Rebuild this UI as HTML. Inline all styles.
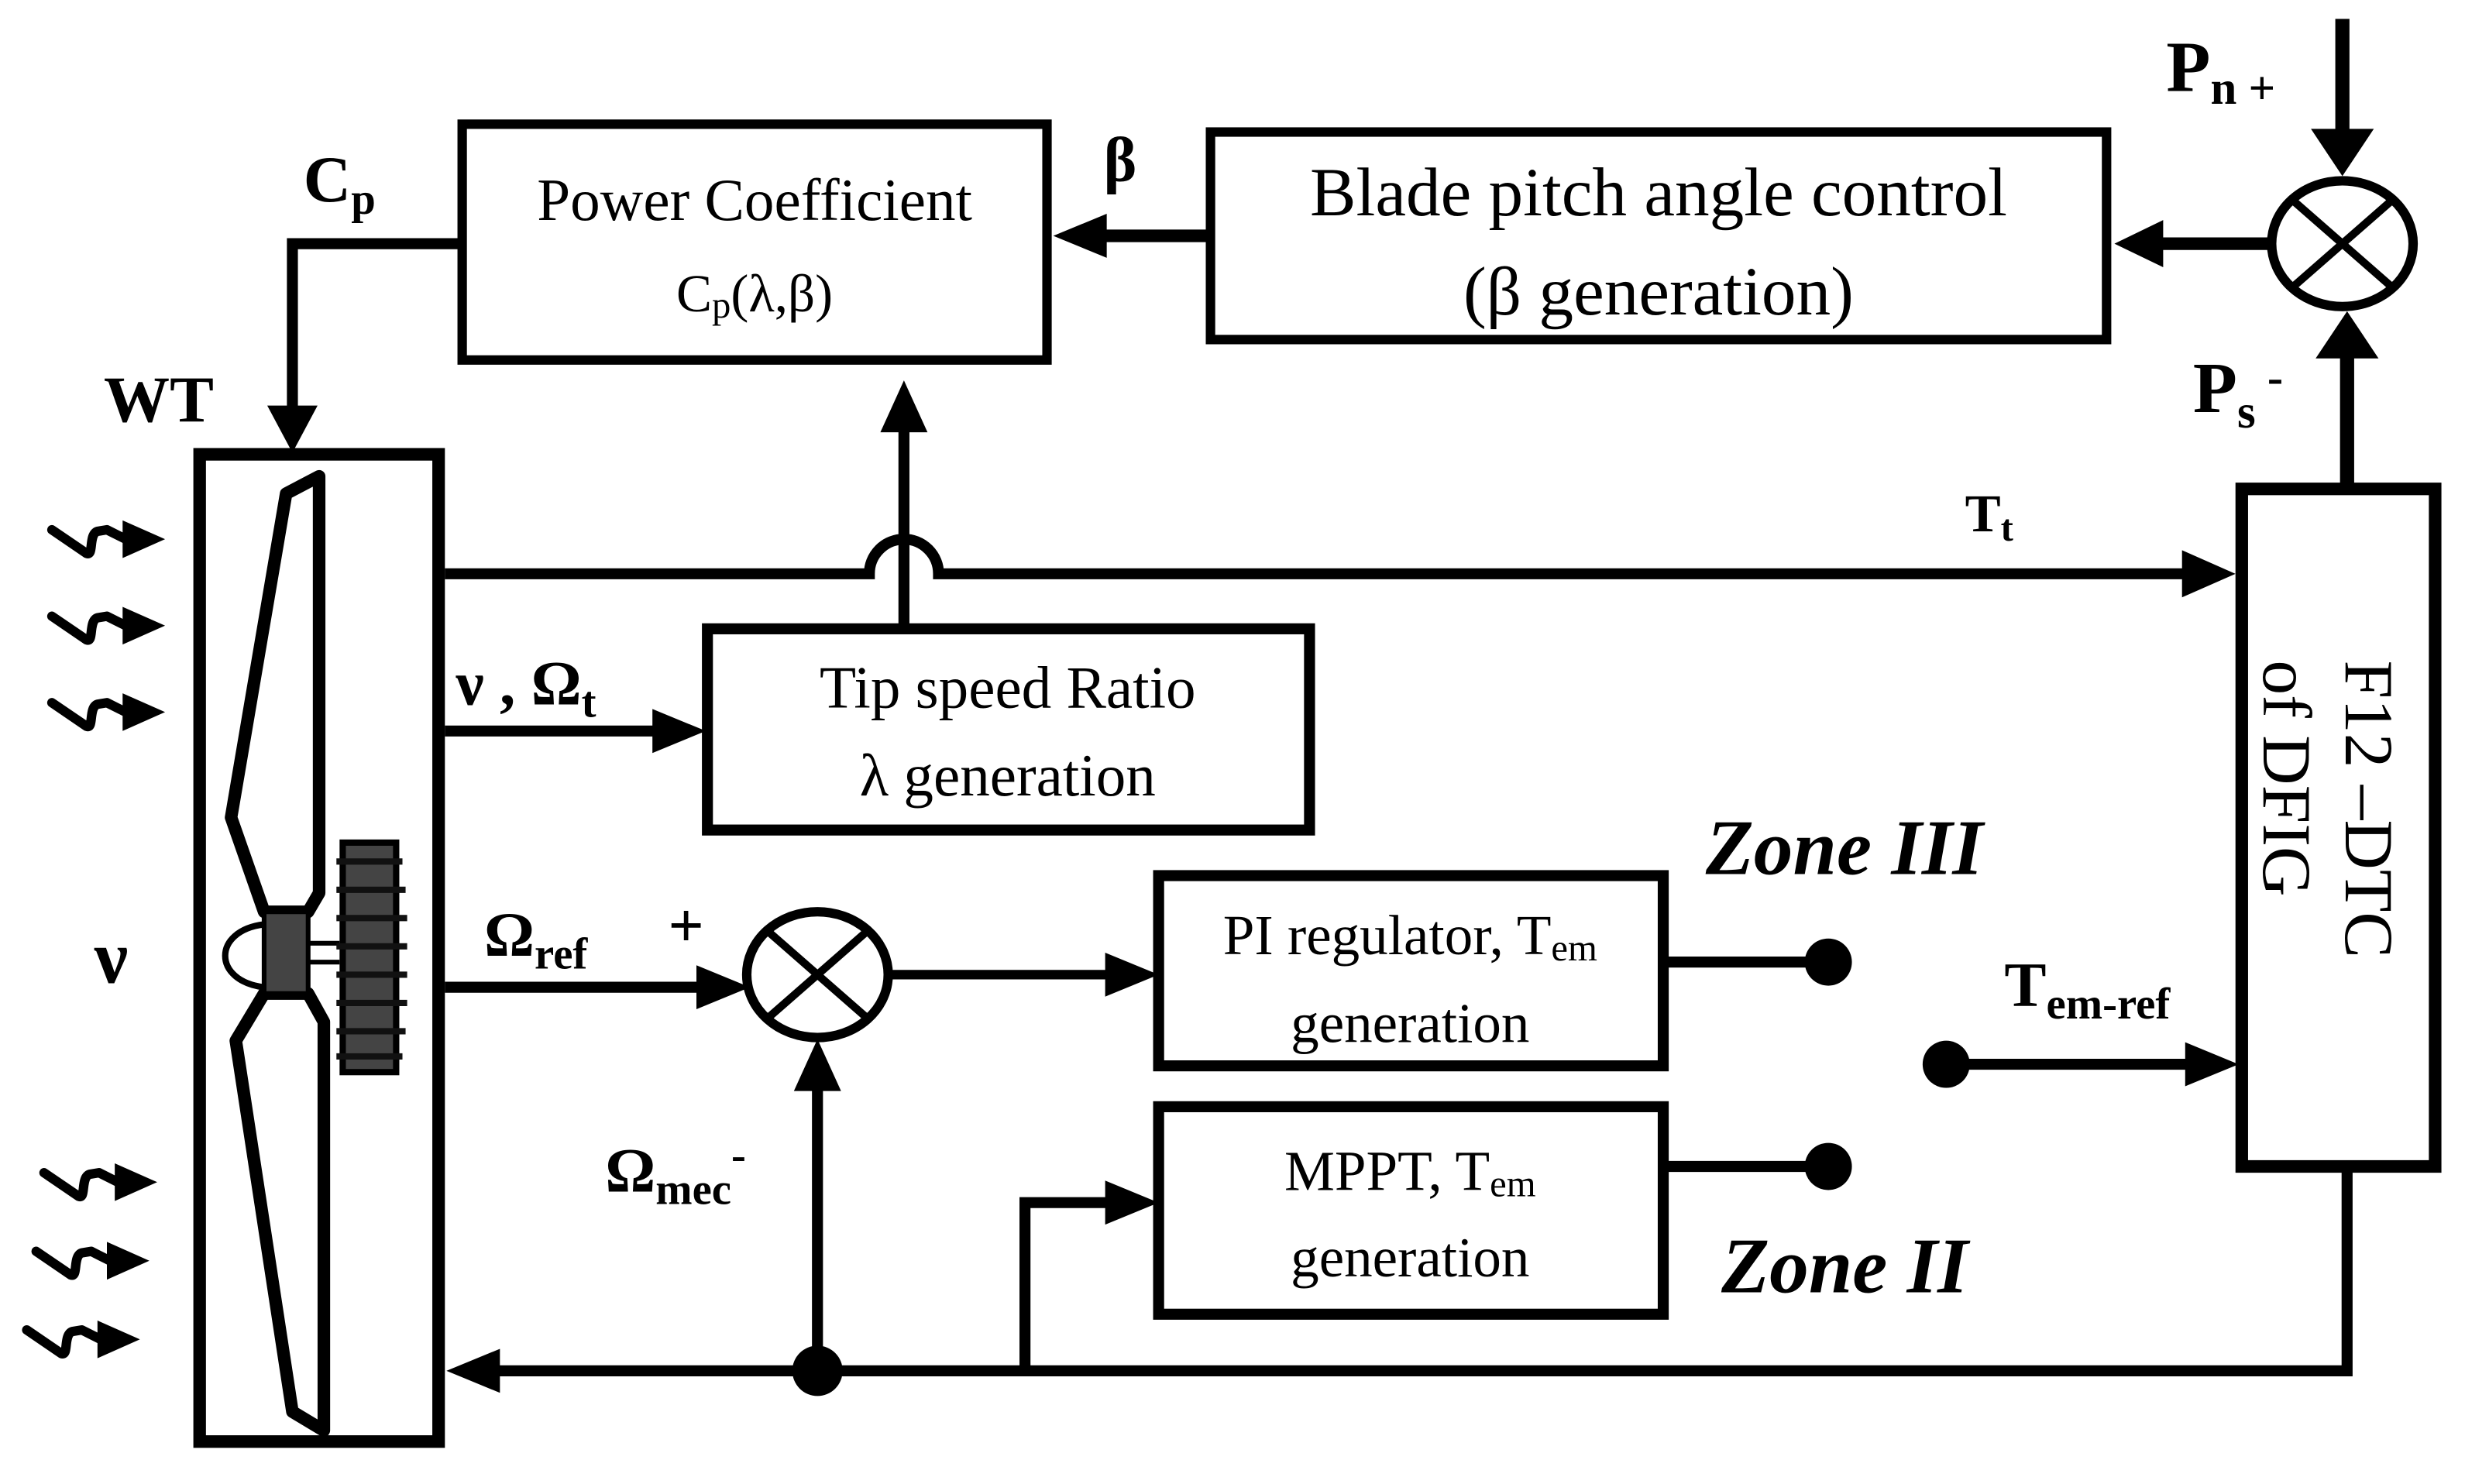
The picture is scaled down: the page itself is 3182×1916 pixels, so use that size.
<!DOCTYPE html>
<html><head><meta charset="utf-8"><style>
html,body{margin:0;padding:0;background:#fff;}
svg{display:block;}
text{font-family:"Liberation Serif",serif;fill:#000;}
</style></head><body>
<svg width="3182" height="1916" viewBox="0 0 1568 944" preserveAspectRatio="none" xmlns="http://www.w3.org/2000/svg">
<g stroke="#000" fill="none">
<rect x="127" y="289" width="152" height="628" stroke-width="8"/>
<polygon points="203,303 182,314 147,520 168,580 196,580 203,568" stroke-width="8" stroke-linejoin="round"/>
<polygon points="168,632 150,662 186,898 206,910 206,650 196,632" stroke-width="8" stroke-linejoin="round"/>
<rect x="168" y="580" width="28" height="52" fill="#444" stroke-width="3"/>
<path d="M168,588 C135,592 135,624 168,628" stroke-width="4"/>
<line x1="196" y1="600" x2="216" y2="600" stroke-width="3"/>
<line x1="196" y1="612" x2="216" y2="612" stroke-width="3"/>
<rect x="218" y="536" width="34" height="146" fill="#444" stroke="#000" stroke-width="4"/>
<g stroke="#111" stroke-width="4">
<line x1="214" y1="548" x2="256" y2="548"/><line x1="214" y1="566" x2="258" y2="566"/>
<line x1="214" y1="584" x2="259" y2="584"/><line x1="214" y1="602" x2="259" y2="602"/>
<line x1="214" y1="620" x2="259" y2="620"/><line x1="214" y1="638" x2="259" y2="638"/>
<line x1="214" y1="656" x2="258" y2="656"/><line x1="214" y1="672" x2="256" y2="672"/>
</g>
<g stroke-width="6" stroke-linecap="round" stroke-linejoin="round">
<path d="M33,337 L55,352 C60,354 56,340 62,338 L68,337 L80,343"/>
<path d="M33,392 L55,407 C60,409 56,395 62,393 L68,392 L80,398"/>
<path d="M33,447 L55,462 C60,464 56,450 62,448 L68,447 L80,453"/>
<path d="M28,746 L50,761 C55,763 51,749 57,747 L63,746 L75,752"/>
<path d="M23,796 L45,811 C50,813 46,799 52,797 L58,796 L70,802"/>
<path d="M17,846 L39,861 C44,863 40,849 46,847 L52,846 L64,852"/>
</g>
<rect x="294" y="79" width="372" height="150" stroke-width="6"/>
<rect x="770" y="84" width="570" height="132" stroke-width="6"/>
<ellipse cx="1490" cy="155" rx="45" ry="40" stroke-width="6"/>
<line x1="1458" y1="127" x2="1522" y2="183" stroke-width="5"/>
<line x1="1458" y1="183" x2="1522" y2="127" stroke-width="5"/>
<line x1="1490" y1="12" x2="1490" y2="85" stroke-width="9"/>
<line x1="1445" y1="155" x2="1370" y2="155" stroke-width="8"/>
<line x1="1493" y1="310" x2="1493" y2="225" stroke-width="9"/>
<line x1="768" y1="150" x2="700" y2="150" stroke-width="8"/>
<polyline points="294,155 186,155 186,262" stroke-width="7"/>
<rect x="1426" y="311" width="123" height="431" stroke-width="8"/>
<path d="M283,365 L553,365 A22,22 0 0 1 597,365 L1390,365" stroke-width="7"/>
<line x1="575" y1="398" x2="575" y2="270" stroke-width="7"/>
<rect x="450" y="400" width="383" height="128" stroke-width="7"/>
<line x1="283" y1="465" x2="420" y2="465" stroke-width="7"/>
<line x1="283" y1="628" x2="448" y2="628" stroke-width="7"/>
<ellipse cx="520" cy="620" rx="45" ry="40" stroke-width="6"/>
<line x1="488" y1="592" x2="552" y2="648" stroke-width="5"/>
<line x1="488" y1="648" x2="552" y2="592" stroke-width="5"/>
<line x1="565" y1="620" x2="705" y2="620" stroke-width="6"/>
<rect x="737" y="557" width="321" height="121" stroke-width="7"/>
<rect x="737" y="704" width="321" height="132" stroke-width="7"/>
<line x1="1058" y1="612" x2="1160" y2="612" stroke-width="7"/>
<line x1="1058" y1="742" x2="1160" y2="742" stroke-width="7"/>
<line x1="1238" y1="677" x2="1392" y2="677" stroke-width="7"/>
<polyline points="1493,742 1493,872 310,872" stroke-width="7"/>
<line x1="520" y1="872" x2="520" y2="690" stroke-width="7"/>
<polyline points="652,872 652,765 707,765" stroke-width="7"/>
</g>
<g fill="#000">
<polygon points="1470,82 1510,82 1490,112"/>
<polygon points="1376,140 1376,170 1345,155"/>
<polygon points="1473,228 1513,228 1493,198"/>
<polygon points="704,136 704,164 670,150"/>
<polygon points="170,258 202,258 186,288"/>
<polygon points="1388,350 1388,380 1422,365"/>
<polygon points="560,275 590,275 575,242"/>
<polygon points="415,451 415,479 449,465"/>
<polygon points="443,614 443,642 477,628"/>
<polygon points="703,606 703,634 737,620"/>
<polygon points="1390,663 1390,691 1424,677"/>
<polygon points="318,858 318,886 284,872"/>
<polygon points="505,694 535,694 520,661"/>
<polygon points="703,751 703,779 737,765"/>
<polygon points="78,331 78,355 105,343"/>
<polygon points="78,386 78,410 105,398"/>
<polygon points="78,441 78,465 105,453"/>
<polygon points="73,740 73,764 100,752"/>
<polygon points="68,790 68,814 95,802"/>
<polygon points="62,840 62,864 89,852"/>
<circle cx="1163" cy="612" r="15"/>
<circle cx="1163" cy="742" r="15"/>
<circle cx="1238" cy="677" r="15"/>
<circle cx="520" cy="872" r="16"/>
</g>
<text x="480" y="140" font-size="38" text-anchor="middle">Power Coefficient</text>
<text x="480" y="198" font-size="34" text-anchor="middle">C<tspan font-size="24" dy="4">p</tspan><tspan dy="-4">(λ,β)</tspan></text>
<text x="1055" y="137" font-size="44" text-anchor="middle">Blade pitch angle control</text>
<text x="1055" y="200" font-size="44" text-anchor="middle">(β generation)</text>
<text x="702" y="115" font-size="40" font-weight="bold">β</text>
<text x="193" y="128" font-size="42" font-weight="bold">C<tspan font-size="28" dy="8">p</tspan></text>
<text x="66" y="268" font-size="42" font-weight="bold">WT</text>
<text x="1378" y="58" font-size="46" font-weight="bold">P<tspan font-size="30" dy="8">n +</tspan></text>
<text x="1395" y="262" font-size="46" font-weight="bold">P<tspan font-size="30" dy="10">s</tspan><tspan font-size="30" dy="-22"> -</tspan></text>
<text x="1250" y="338" font-size="34" font-weight="bold">T<tspan font-size="24" dy="6">t</tspan></text>
<text x="641" y="450" font-size="38" text-anchor="middle">Tip speed Ratio</text>
<text x="641" y="506" font-size="38" text-anchor="middle">λ generation</text>
<text x="290" y="448" font-size="40" font-weight="bold">ν , Ω<tspan font-size="28" dy="8">t</tspan></text>
<text x="60" y="625" font-size="48" font-weight="bold">ν</text>
<text x="308" y="608" font-size="40" font-weight="bold">Ω<tspan font-size="28" dy="8">ref</tspan></text>
<text x="425" y="602" font-size="40" font-weight="bold">+</text>
<text x="385" y="758" font-size="40" font-weight="bold">Ω<tspan font-size="28" dy="8">mec</tspan><tspan font-size="28" dy="-22">-</tspan></text>
<text x="897" y="607" font-size="36" text-anchor="middle">PI regulator, T<tspan font-size="24" dy="4">em</tspan></text>
<text x="897" y="663" font-size="36" text-anchor="middle">generation</text>
<text x="897" y="757" font-size="36" text-anchor="middle">MPPT, T<tspan font-size="24" dy="4">em</tspan></text>
<text x="897" y="812" font-size="36" text-anchor="middle">generation</text>
<text x="1085" y="556" font-size="50" font-weight="bold" font-style="italic">Zone III</text>
<text x="1095" y="822" font-size="50" font-weight="bold" font-style="italic">Zone II</text>
<text x="1275" y="640" font-size="40" font-weight="bold">T<tspan font-size="28" dy="8">em-ref</tspan></text>
<text transform="translate(1492,420) rotate(90)" font-size="44">F12 –DTC</text>
<text transform="translate(1440,420) rotate(90)" font-size="44">of DFIG</text>
</svg>
</body></html>
